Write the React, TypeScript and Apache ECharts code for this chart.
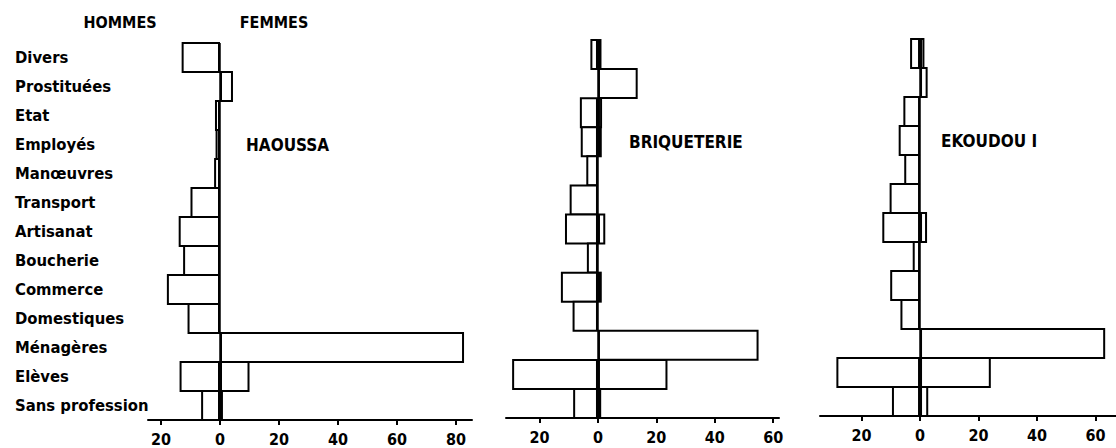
import React, { useEffect, useRef } from "react";
import * as echarts from "echarts";

const categories = [
  "Divers",
  "Prostituées",
  "Etat",
  "Employés",
  "Manœuvres",
  "Transport",
  "Artisanat",
  "Boucherie",
  "Commerce",
  "Domestiques",
  "Ménagères",
  "Elèves",
  "Sans profession",
];

const panelTitles = ["HAOUSSA", "BRIQUETERIE", "EKOUDOU I"];
const sideLabels = ["HOMMES", "FEMMES"];

const haoussaHommes = [13, 0, 1.7, 1.5, 2, 10, 14, 12.5, 18, 11, 0, 13.7, 6.4];
const haoussaFemmes = [0, 4.4, 0, 0, 0, 0, 0, 0, 0, 0, 82.7, 10, 1];

const briqHommes = [2.6, 0, 6.2, 5.9, 4, 9.7, 11.3, 3.8, 12.7, 8.7, 0, 29.4, 8.5];
const briqFemmes = [1.2, 13.6, 1.4, 1.3, 0, 0, 2.5, 0, 1.3, 0, 55, 23.8, 1.1];

const ekoHommes = [3.4, 0, 5.7, 7.3, 5.4, 10.4, 12.9, 2.5, 10.2, 6.7, 0, 28.6, 9.6];
const ekoFemmes = [1.5, 2.6, 0, 0, 0, 0, 2.4, 0, 0, 0, 63.3, 24.2, 2.8];

const ticks1 = [-20, 0, 20, 40, 60, 80];
const ticks2 = [-20, 0, 20, 40, 60];
const ticks3 = [-20, 0, 20, 40, 60];

const FONT = "'DejaVu Sans Condensed', 'DejaVu Sans', sans-serif";

export default function App() {
  const ref = useRef<HTMLDivElement>(null);
  useEffect(() => {
    if (!ref.current) return;
    const chart = echarts.init(ref.current, null, { renderer: "svg" });

    const panels = [
      { hommes: haoussaHommes, femmes: haoussaFemmes, ticks: ticks1, grid: { left: 148, top: 43, width: 324, height: 377 }, min: -24.4, max: 85.4 },
      { hommes: briqHommes, femmes: briqFemmes, ticks: ticks2, grid: { left: 506, top: 40, width: 273, height: 378 }, min: -31.5, max: 62.0 },
      { hommes: ekoHommes, femmes: ekoFemmes, ticks: ticks3, grid: { left: 820, top: 39, width: 296, height: 377 }, min: -34.2, max: 67.0 },
    ];

    const barStyle = { color: "#ffffff", borderColor: "#000000", borderWidth: 2 };

    const series: any[] = [];
    panels.forEach((p, i) => {
      series.push({
        type: "bar",
        xAxisIndex: i,
        yAxisIndex: i,
        data: p.hommes.map((v) => (v === 0 ? null : -v)),
        barWidth: 31,
        barGap: "-100%",
        itemStyle: barStyle,
        silent: true,
        markLine: {
          silent: true,
          symbol: ["none", "none"],
          label: { show: false },
          lineStyle: { color: "#000", width: 1.5, type: "solid" },
          data: [{ xAxis: 0 }],
        },
      });
      series.push({
        type: "bar",
        xAxisIndex: i,
        yAxisIndex: i,
        data: p.femmes.map((v) => (v === 0 ? null : v)),
        barWidth: 31,
        barGap: "-100%",
        itemStyle: barStyle,
        silent: true,
      });
    });

    const titlePos = [
      { x: 246, y: 145 },
      { x: 629, y: 142 },
      { x: 941, y: 141 },
    ];

    chart.setOption({
      animation: false,
      backgroundColor: "#ffffff",
      grid: panels.map((p) => ({ ...p.grid, containLabel: false })),
      xAxis: panels.map((p, i) => ({
        type: "value",
        gridIndex: i,
        min: p.min,
        max: p.max,
        splitLine: { show: false },
        axisLine: { show: true, onZero: false, lineStyle: { color: "#000", width: 2 } },
        axisTick: { show: true, length: 5, lineStyle: { color: "#000", width: 2 }, customValues: p.ticks },
        axisLabel: {
          show: true,
          customValues: p.ticks,
          formatter: (v: number) => String(Math.abs(Math.round(v))),
          color: "#000",
          fontFamily: FONT,
          fontWeight: "bold",
          fontSize: 16,
          margin: 11,
        },
      })),
      yAxis: panels.map((p, i) => ({
        type: "category",
        gridIndex: i,
        data: categories,
        inverse: true,
        axisLine: { show: false },
        axisTick: { show: false },
        splitLine: { show: false },
        axisLabel: {
          show: i === 0,
          align: "left",
          margin: 133,
          color: "#000",
          fontFamily: FONT,
          fontWeight: "bold",
          fontSize: 16.5,
        },
      })),
      series,
      graphic: [
        {
          type: "text",
          x: 120,
          y: 22,
          style: { text: sideLabels[0], fill: "#000", font: `bold 16px ${FONT}`, textAlign: "center", textVerticalAlign: "middle" },
        },
        {
          type: "text",
          x: 274,
          y: 22,
          style: { text: sideLabels[1], fill: "#000", font: `bold 16px ${FONT}`, textAlign: "center", textVerticalAlign: "middle" },
        },
        ...panelTitles.map((t, i) => ({
          type: "text",
          x: titlePos[i].x,
          y: titlePos[i].y,
          style: { text: t, fill: "#000", font: `bold 17px ${FONT}`, textAlign: "left", textVerticalAlign: "middle" },
        })),
      ],
    });

    return () => chart.dispose();
  }, []);

  return (
    <div
      ref={ref}
      style={{ position: "fixed", left: 0, top: 0, width: 1116, height: 448, background: "#fff" }}
    />
  );
}
